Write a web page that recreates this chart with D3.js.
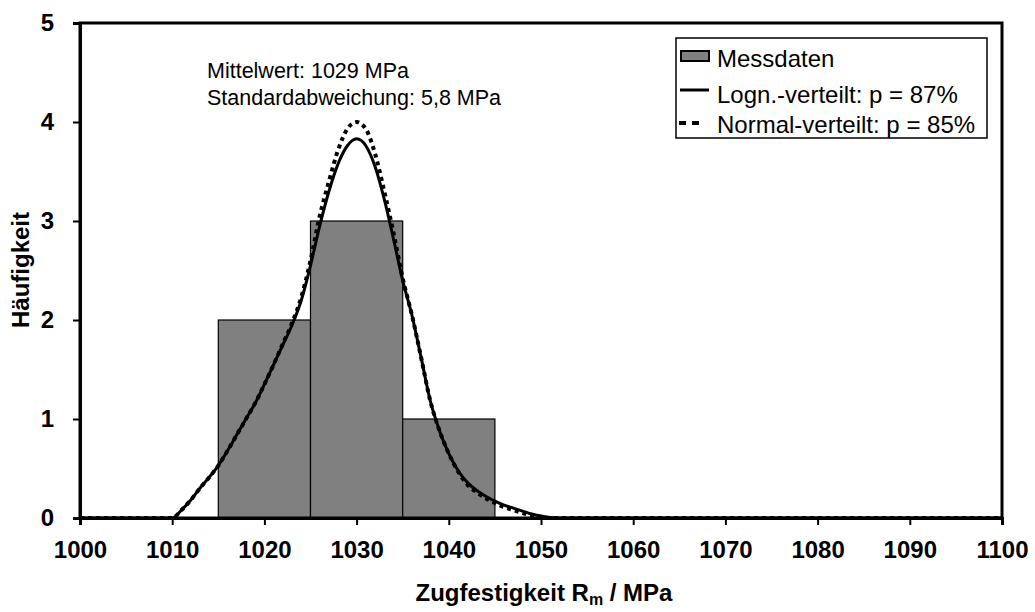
<!DOCTYPE html>
<html lang="de">
<head>
<meta charset="utf-8">
<title>Zugfestigkeit Verteilung</title>
<script src="https://d3js.org/d3.v7.min.js"></script>
<style>
  body { margin: 0; background: white; }
  svg text { font-family: "Liberation Sans", Arial, sans-serif; fill: black; }
</style>
</head>
<body>
<div id="chart"></div>
<script>
// histogram bins (Messdaten)
var binStart = [1015, 1025, 1035];
var binEnd   = [1025, 1035, 1045];
var binCount = [2, 3, 1];

// fitted curves
var curveX = [1000, 1010, 1011, 1012, 1013, 1014, 1015, 1016, 1017, 1018, 1019, 1020,
              1021, 1022, 1023, 1024, 1025, 1026, 1027, 1028, 1029, 1030, 1031, 1032,
              1033, 1034, 1035, 1036, 1037, 1038, 1039, 1040, 1041, 1042, 1043, 1044,
              1045, 1046, 1047, 1048, 1049, 1050, 1051, 1052, 1060, 1080, 1100];
var lognY  = [0, 0, 0.08, 0.18, 0.30, 0.41, 0.53, 0.68, 0.84, 1.00, 1.16, 1.35,
              1.55, 1.75, 1.95, 2.20, 2.55, 2.95, 3.30, 3.58, 3.76, 3.83, 3.76, 3.55,
              3.22, 2.82, 2.40, 2.05, 1.62, 1.18, 0.88, 0.65, 0.48, 0.36, 0.28, 0.22,
              0.17, 0.13, 0.10, 0.07, 0.04, 0.02, 0.005, 0, 0, 0, 0];
var normY  = [0, 0, 0.08, 0.18, 0.30, 0.41, 0.53, 0.68, 0.84, 1.00, 1.16, 1.35,
              1.55, 1.76, 1.97, 2.23, 2.60, 3.05, 3.40, 3.72, 3.93, 4.00, 3.93, 3.68,
              3.30, 2.88, 2.42, 2.05, 1.62, 1.18, 0.88, 0.65, 0.47, 0.34, 0.26, 0.20,
              0.15, 0.11, 0.08, 0.05, 0.025, 0.01, 0, 0, 0, 0, 0];

var xTicks = [1000, 1010, 1020, 1030, 1040, 1050, 1060, 1070, 1080, 1090, 1100];
var yTicks = [0, 1, 2, 3, 4, 5];

var legendLabels = ["Messdaten", "Logn.-verteilt: p = 87%", "Normal-verteilt: p = 85%"];
var infoLines = ["Mittelwert: 1029 MPa", "Standardabweichung: 5,8 MPa"];

var W = 1035, H = 612;
var margin = {top: 23, right: 33, bottom: 94, left: 80};

var svg = d3.select("#chart").append("svg")
    .attr("width", W)
    .attr("height", H);

var x = d3.scaleLinear().domain([1000, 1100]).range([margin.left, W - margin.right]);
var y = d3.scaleLinear().domain([0, 5]).range([H - margin.bottom, margin.top]);

// bars
svg.selectAll("rect.bar")
  .data(binCount)
  .enter().append("rect")
    .attr("class", "bar")
    .attr("x", function(d, i) { return x(binStart[i]); })
    .attr("width", function(d, i) { return x(binEnd[i]) - x(binStart[i]); })
    .attr("y", function(d) { return y(d); })
    .attr("height", function(d) { return y(0) - y(d); })
    .attr("fill", "#808080")
    .attr("stroke", "black")
    .attr("stroke-width", 1.2);

var line = d3.line()
    .x(function(d) { return x(d[0]); })
    .y(function(d) { return y(d[1]); })
    .curve(d3.curveMonotoneX);

svg.append("path")
    .datum(curveX.map(function(v, i) { return [v, normY[i]]; }))
    .attr("fill", "none")
    .attr("stroke", "black")
    .attr("stroke-width", 4)
    .attr("stroke-dasharray", "4,4")
    .attr("d", line);

svg.append("path")
    .datum(curveX.map(function(v, i) { return [v, lognY[i]]; }))
    .attr("fill", "none")
    .attr("stroke", "black")
    .attr("stroke-width", 3)
    .attr("d", line);

// frame (top + right)
svg.append("rect")
    .attr("x", x(1000))
    .attr("y", y(5))
    .attr("width", x(1100) - x(1000))
    .attr("height", y(0) - y(5))
    .attr("fill", "none")
    .attr("stroke", "black")
    .attr("stroke-width", 3);

// axes
var xAxis = svg.append("g")
    .attr("transform", "translate(0," + y(0) + ")")
    .call(d3.axisBottom(x).tickValues(xTicks).tickSize(7).tickPadding(16).tickFormat(d3.format("d")));
var yAxis = svg.append("g")
    .attr("transform", "translate(" + x(1000) + ",0)")
    .call(d3.axisLeft(y).tickValues(yTicks).tickSize(7).tickPadding(19).tickFormat(d3.format("d")));

[xAxis, yAxis].forEach(function(g) {
  g.select(".domain").attr("stroke-width", 3);
  g.selectAll(".tick line").attr("stroke-width", 2);
  g.selectAll(".tick text")
    .style("font-size", "24px")
    .style("font-weight", "bold");
});

// axis titles
var xt = svg.append("text")
    .attr("x", 544)
    .attr("y", 601)
    .attr("text-anchor", "middle")
    .style("font-size", "24px")
    .style("font-weight", "bold");
xt.append("tspan").text("Zugfestigkeit R");
xt.append("tspan").text("m").attr("dy", 4).style("font-size", "16px");
xt.append("tspan").text(" / MPa").attr("dy", -4);

svg.append("text")
    .attr("transform", "translate(29,270) rotate(-90)")
    .attr("text-anchor", "middle")
    .style("font-size", "24px")
    .style("font-weight", "bold")
    .text("Häufigkeit");

// mean / sd annotation
svg.selectAll("text.info")
  .data(infoLines)
  .enter().append("text")
    .attr("class", "info")
    .attr("x", 207)
    .attr("y", function(d, i) { return 78 + i * 27; })
    .style("font-size", "21.5px")
    .text(function(d) { return d; });

// legend
var lg = svg.append("g");
lg.append("rect")
    .attr("x", 676).attr("y", 38)
    .attr("width", 311).attr("height", 100)
    .attr("fill", "white")
    .attr("stroke", "black")
    .attr("stroke-width", 1.5);
lg.append("rect")
    .attr("x", 681).attr("y", 51)
    .attr("width", 28).attr("height", 10)
    .attr("fill", "#808080")
    .attr("stroke", "black")
    .attr("stroke-width", 2);
lg.append("line")
    .attr("x1", 680).attr("x2", 709)
    .attr("y1", 90).attr("y2", 90)
    .attr("stroke", "black").attr("stroke-width", 3);
lg.append("line")
    .attr("x1", 679).attr("x2", 699)
    .attr("y1", 123).attr("y2", 123)
    .attr("stroke", "black").attr("stroke-width", 4)
    .attr("stroke-dasharray", "7,6,7");
lg.selectAll("text.leg")
  .data(legendLabels)
  .enter().append("text")
    .attr("class", "leg")
    .attr("x", 717)
    .attr("y", function(d, i) { return [67, 103, 133][i]; })
    .style("font-size", "24px")
    .text(function(d) { return d; });
</script>
</body>
</html>
